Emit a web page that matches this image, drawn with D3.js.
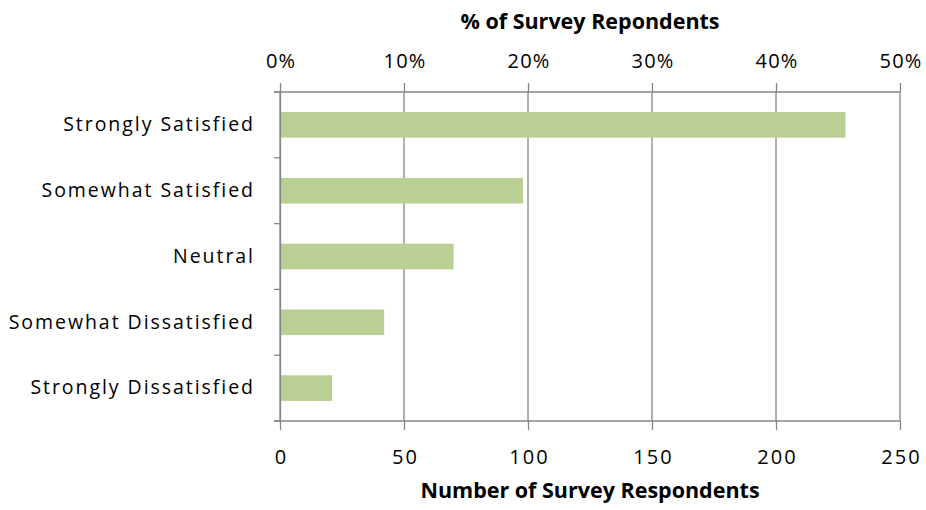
<!DOCTYPE html>
<html>
<head>
<meta charset="utf-8">
<script src="https://cdn.jsdelivr.net/npm/d3@7"></script>
<style>
  body { margin: 0; background: #fff; }
  svg text { font-family: "Open Sans", "Noto Sans", sans-serif; fill: #000; }
</style>
</head>
<body>
<svg id="chart" width="926" height="510"></svg>
<script>
// chart data
var categories = ["Strongly Satisfied", "Somewhat Satisfied", "Neutral", "Somewhat Dissatisfied", "Strongly Dissatisfied"];
var respondents = [228, 98, 70, 42, 21];
var countTicks = [0, 50, 100, 150, 200, 250];
var pctTicks = [0, 0.1, 0.2, 0.3, 0.4, 0.5];
var topTitle = "% of Survey Repondents";
var bottomTitle = "Number of Survey Respondents";

var svg = d3.select("#chart");
// plot area edges (note: "top" is reserved on window)
var plotLeft = 280, plotRight = 900, plotTop = 92, plotBottom = 421;

// scales
var x = d3.scaleLinear().domain([0, 250]).range([plotLeft, plotRight]);
var xPct = d3.scaleLinear().domain([0, 0.5]).range([plotLeft, plotRight]);
var y = d3.scaleBand().domain(categories).range([plotTop, plotBottom]).paddingInner(0.61).paddingOuter(0.305);

var gridColor = "#868686";

// vertical gridlines
svg.append("g").selectAll("line")
    .data(countTicks)
    .enter().append("line")
    .attr("x1", function (d) { return x(d); })
    .attr("x2", function (d) { return x(d); })
    .attr("y1", plotTop)
    .attr("y2", plotBottom)
    .attr("stroke", gridColor)
    .attr("stroke-width", 1.3);

// bars
svg.append("g").selectAll("rect")
    .data(categories)
    .enter().append("rect")
    .attr("x", x(0) + 1)
    .attr("y", function (d) { return y(d); })
    .attr("width", function (d, i) { return x(respondents[i]) - x(0) - 1; })
    .attr("height", y.bandwidth())
    .attr("fill", "#bbcf95");

// top axis (percent)
var topAxis = svg.append("g")
    .attr("transform", "translate(0," + plotTop + ")")
    .call(d3.axisTop(xPct).tickValues(pctTicks).tickFormat(d3.format(".0%")).tickSizeInner(9).tickSizeOuter(0).tickPadding(15));

// bottom axis (count)
var bottomAxis = svg.append("g")
    .attr("transform", "translate(0," + plotBottom + ")")
    .call(d3.axisBottom(x).tickValues(countTicks).tickSizeInner(9).tickSizeOuter(0).tickPadding(20));

// left axis with ticks at category boundaries
var leftAxis = svg.append("g")
    .attr("transform", "translate(" + plotLeft + ",0)")
    .call(d3.axisLeft(y).tickSize(0).tickPadding(25));

var bounds = d3.range(categories.length + 1).map(function (i) { return plotTop + i * (plotBottom - plotTop) / categories.length; });
leftAxis.selectAll(".bound")
    .data(bounds)
    .enter().append("line")
    .attr("class", "bound")
    .attr("x1", -6).attr("x2", 0)
    .attr("y1", function (d) { return d; })
    .attr("y2", function (d) { return d; })
    .attr("stroke", gridColor)
    .attr("stroke-width", 1.3);

[topAxis, bottomAxis, leftAxis].forEach(function (g) {
    g.select(".domain").attr("stroke", gridColor).attr("stroke-width", 1.3);
    g.selectAll(".tick line").attr("stroke", gridColor).attr("stroke-width", 1.3);
    g.selectAll(".tick text").attr("font-size", 20).attr("fill", "#222").style("font-family", "Open Sans");
});
leftAxis.selectAll(".tick text").attr("font-size", 19.5).attr("letter-spacing", 1.95);
topAxis.selectAll(".tick text").attr("letter-spacing", 1.2).attr("dx", 0.6);
bottomAxis.selectAll(".tick text").attr("letter-spacing", 2).attr("dx", 1);

// extend horizontal axis lines a bit past the y axis
topAxis.select(".domain").attr("d", "M" + (plotLeft - 6) + ",0H" + plotRight);
bottomAxis.select(".domain").attr("d", "M" + (plotLeft - 6) + ",0H" + plotRight);

// axis titles
svg.append("text")
    .attr("x", (plotLeft + plotRight) / 2)
    .attr("y", 29)
    .attr("text-anchor", "middle")
    .attr("font-size", 21.5)
    .attr("font-weight", "bold")
    .attr("fill", "#111")
    .text(topTitle);

svg.append("text")
    .attr("x", (plotLeft + plotRight) / 2)
    .attr("y", 498)
    .attr("text-anchor", "middle")
    .attr("font-size", 21.5)
    .attr("font-weight", "bold")
    .attr("fill", "#111")
    .text(bottomTitle);
</script>
</body>
</html>
